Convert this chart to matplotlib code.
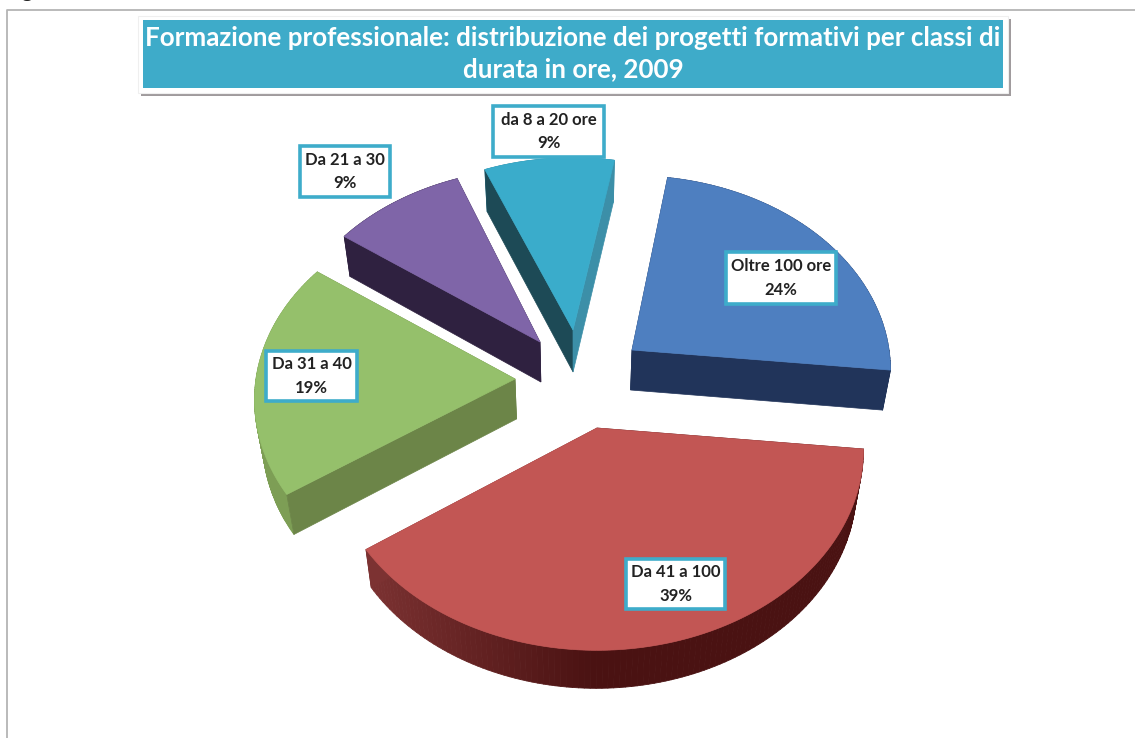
import numpy as np
import matplotlib
matplotlib.use('Agg')
import matplotlib.pyplot as plt
from matplotlib.patches import Polygon, Rectangle
from matplotlib.collections import PolyCollection

plt.rcParams['font.family'] = ['Lato', 'DejaVu Sans']

# dati
categorie = ['Oltre 100 ore', 'Da 41 a 100', 'Da 31 a 40', 'Da 21 a 30', 'da 8 a 20 ore']
valori = [24.2, 38.6, 19.4, 9.3, 9.1]
titolo = 'Formazione professionale: distribuzione dei progetti formativi per classi di\ndurata in ore, 2009'

# stile e posizione delle fette (in pixel)
inizio = [8.8, 96.0, 236.0, 305.7, 337.6]
apice = [(632, 350), (597, 428), (515, 379), (540, 342), (573, 330)]
raggio = [257, 265, 259, 256, 254]
spessore = [40, 38, 40, 40, 42]
col_top = ['#4e7fc0', '#c25654', '#95c06b', '#7f65a8', '#3aaccb']
col_a = ['#1f3358', '#4a1515', '#6c8548', '#2f2140', '#1d4a56']  # faccia sul lato iniziale
col_b = ['#21345a', '#7c3232', '#6c8548', '#2f2140', '#3c8fa8']  # faccia sul lato finale
rim_da = ['#21345a', '#4a1212', '#6f8a48', '#2f2140', '#3c8fa8']
rim_a = ['#21345a', '#7c3232', '#7d9e55', '#2f2140', '#3c8fa8']
box_label = [(726, 252, 110, 52), (626, 559, 99, 50), (266, 351, 91, 50), (300, 146, 90, 51), (493, 106, 111, 51)]

tilt = 0.75
persp = 0.106
centro_x = 575


def proietta(th, r, ap):
    # disco inclinato con una piccola prospettiva
    th = np.radians(th)
    w = 1 + persp * np.cos(th)
    x = ap[0] + r * np.sin(th) / w
    y = ap[1] - r * tilt * np.cos(th) / w
    return x, y


def sotto(x, y, h):
    return centro_x + (np.asarray(x) - centro_x) * 0.975, np.asarray(y) + h


fig = plt.figure(figsize=(11.35, 7.38), dpi=100)
ax = fig.add_axes([0, 0, 1, 1])
ax.set_xlim(0, 1135)
ax.set_ylim(738, 0)
ax.axis('off')

# cornice
ax.plot([6.5, 6.5, 1135], [738, 9.5, 9.5], color='#b4b4b4', lw=1.3)
ax.text(5, -3, 'Figura', fontsize=15, fontweight='bold', color='#222222', va='baseline', ha='left', clip_on=False)

# fette
for i in [4, 3, 0, 2, 1]:
    th = np.linspace(inizio[i], inizio[i] + valori[i] * 3.6, 120)
    x, y = proietta(th, raggio[i], apice[i])
    xb, yb = sotto(x, y, spessore[i])
    ax_, ay_ = apice[i]
    axb, ayb = sotto(ax_, ay_, spessore[i])

    # bordo curvo con sfumatura
    quad = []
    colori = []
    c1 = np.array(matplotlib.colors.to_rgb(rim_da[i]))
    c2 = np.array(matplotlib.colors.to_rgb(rim_a[i]))
    for j in range(len(th) - 1):
        quad.append([(x[j], y[j]), (x[j + 1], y[j + 1]), (xb[j + 1], yb[j + 1]), (xb[j], yb[j])])
        # sfumatura solo nella parte sinistra del bordo
        f = np.clip((centro_x + 20 - x[j]) / 230, 0, 1)
        colori.append(c1 + (c2 - c1) * f)
    ax.add_collection(PolyCollection(quad, facecolors=colori, edgecolors=colori, linewidths=0.6))

    # facce di taglio
    ax.add_patch(Polygon([(ax_, ay_), (x[0], y[0]), (xb[0], yb[0]), (axb, ayb)], closed=True, fc=col_a[i], ec=col_a[i], lw=0.5))
    ax.add_patch(Polygon([(ax_, ay_), (x[-1], y[-1]), (xb[-1], yb[-1]), (axb, ayb)], closed=True, fc=col_b[i], ec=col_b[i], lw=0.5))

    # faccia superiore
    pts = [(ax_, ay_)] + list(zip(x, y))
    ax.add_patch(Polygon(pts, closed=True, fc=col_top[i], ec=col_top[i], lw=0.5))

# etichette
for i in range(len(categorie)):
    bx, by, bw, bh = box_label[i]
    ax.add_patch(Rectangle((bx, by), bw, bh, fc='white', ec='#3eacca', lw=2.6, zorder=5))
    testo = categorie[i] + '\n' + str(round(valori[i])) + '%'
    ax.text(bx + bw / 2, by + bh / 2, testo, ha='center', va='center', fontsize=12, fontweight='bold',
            color='#222222', linespacing=1.55, zorder=6)

# titolo
ax.add_patch(Rectangle((141, 19), 870, 77, fc='#8f8a8c', ec='none', alpha=0.85, zorder=6))
ax.add_patch(Rectangle((138, 16), 870, 77, fc='white', ec='#efefef', lw=0.8, zorder=7))
ax.add_patch(Rectangle((143, 20), 860, 68, fc='#3eabc9', ec='none', zorder=8))
ax.text(573, 53.5, titolo, ha='center', va='center', fontsize=18.7, fontweight='bold', color='white',
        linespacing=1.33, zorder=9)

plt.savefig('out.png', dpi=100)
